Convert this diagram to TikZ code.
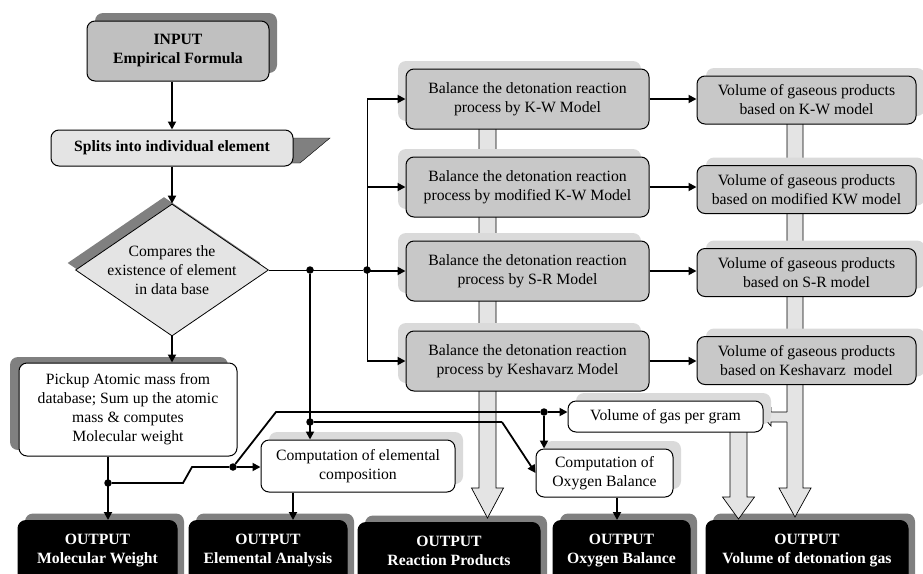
\documentclass[tikz,border=0pt]{standalone}
\usepackage{fontspec}
\setmainfont{Liberation Serif}
\usetikzlibrary{arrows.meta,shapes.geometric,shadows}
\definecolor{boxgray}{RGB}{200,200,200}
\definecolor{inputgray}{RGB}{192,192,192}
\definecolor{palegray}{RGB}{228,228,228}
\definecolor{shadowdark}{RGB}{128,128,128}
\definecolor{shadowlight}{RGB}{218,218,218}
\newcommand{\diagfont}{\fontsize{15.7}{19}\selectfont}
\tikzset{
  box/.style={draw, line width=1pt, rounded corners=8pt, inner sep=0pt, align=center},
  inbox/.style={box, fill=inputgray, font=\diagfont\bfseries,
    general shadow={fill=shadowdark, shadow xshift=8pt, shadow yshift=8pt}},
  splitbox/.style={box, fill=palegray, font=\diagfont\bfseries},
  cmpdiamond/.style={diamond, draw, line width=0.8pt, fill=palegray, inner sep=0pt,
    general shadow={fill=shadowdark, shadow xshift=-8pt, shadow yshift=7pt}},
  pickbox/.style={box, fill=white,
    general shadow={fill=shadowdark, shadow xshift=-9pt, shadow yshift=6pt}},
  modelbox/.style={box, fill=boxgray, minimum width=243pt, minimum height=60pt,
    general shadow={fill=shadowlight, shadow xshift=-8pt, shadow yshift=8pt}},
  gasbox/.style={box, fill=boxgray, minimum width=219pt, minimum height=48pt,
    general shadow={fill=shadowlight, shadow xshift=9pt, shadow yshift=8pt}},
  calcbox/.style={box, fill=white,
    general shadow={fill=shadowlight, shadow xshift=8pt, shadow yshift=8pt}},
  outbox/.style={box, fill=black, text=white, font=\diagfont\bfseries, anchor=north,
    inner ysep=14pt, text depth=50pt,
    general shadow={fill=shadowdark, shadow xshift=7pt, shadow yshift=7pt}},
  pipe/.style={draw, line width=0.7pt, fill=palegray},
  flow/.style={line width=1.8pt, -{Triangle[length=8pt,width=8pt]}},
  link/.style={line width=1.8pt},
  thinlink/.style={line width=0.9pt},
  dot/.style={circle, fill, inner sep=0pt, minimum size=7.5pt}
}

\begin{document}
\begin{tikzpicture}[x=1pt,y=-1pt,font=\diagfont]
\useasboundingbox (0,0) rectangle (923,573);
% Outputs along the bottom
\node[outbox, minimum width=159pt] (mw) at (97.5,520) {OUTPUT\\Molecular Weight};
\node[outbox, minimum width=158pt] (ea) at (268,520) {OUTPUT\\Elemental Analysis};
\node[outbox, minimum width=182pt] (rp) at (449,522) {OUTPUT\\Reaction Products};
\node[outbox, minimum width=137pt] (ob) at (621.5,520) {OUTPUT\\Oxygen Balance};
\node[outbox, minimum width=202pt] (vdg) at (807,520) {OUTPUT\\Volume of detonation gas};

% Block arrows behind the model boxes
\draw[pipe] (479,110) -- (496,110) -- (496,488) -- (503.5,488) -- (487.5,518)
  -- (471.5,488) -- (479,488) -- cycle;
\draw[pipe] (787,110) -- (803,110) -- (803,488) -- (811,488) -- (795,517)
  -- (779,488) -- (787,488) -- cycle;
\draw[pipe] (730,425) -- (747,425) -- (747,497) -- (754.5,497) -- (738.5,519)
  -- (722.5,497) -- (730,497) -- cycle;
\fill[palegray] (788.6,412) -- (771,412) -- (771,408) -- (763,417) -- (771,426)
  -- (771,422) -- (788.6,422) -- cycle;
\draw[line width=0.7pt] (787,412) -- (771,412) -- (771,408) -- (763,417) -- (771,426)
  -- (771,422) -- (787,422);

% Left column
\draw[fill=shadowdark] (285,138) -- (330,138) -- (300,163) -- (285,163) -- cycle;
\node[inbox, minimum width=182pt, minimum height=60pt] (input) at (178,51) {INPUT\\Empirical Formula};
\node[splitbox, minimum width=242pt, minimum height=36pt] (splits) at (172,148) {Splits into individual element};
\node[cmpdiamond, minimum width=193pt, minimum height=132pt,
  label={[align=center]center:Compares the\\existence of element\\in data base}] (cmp) at (172,270) {};
\node[pickbox, minimum width=218pt, minimum height=93pt] (pickup) at (128,409.5)
  {Pickup Atomic mass from\\database; Sum up the atomic\\mass \& computes\\Molecular weight};

% Models and gas volumes
\node[modelbox] (b1) at (527.5,99) {Balance the detonation reaction\\process by K-W Model};
\node[modelbox] (b2) at (527.5,187) {Balance the detonation reaction\\process by modified K-W Model};
\node[modelbox] (b3) at (527.5,271) {Balance the detonation reaction\\process by S-R Model};
\node[modelbox] (b4) at (527.5,361) {Balance the detonation reaction\\process by Keshavarz Model};
\node[gasbox] (v1) at (806.5,100) {Volume of gaseous products\\based on K-W model};
\node[gasbox] (v2) at (806.5,189.5) {Volume of gaseous products\\based on modified KW model};
\node[gasbox] (v3) at (806.5,272.5) {Volume of gaseous products\\based on S-R model};
\node[gasbox] (v4) at (806.5,360.5) {Volume of gaseous products\\based on Keshavarz\ \ model};

% Computations
\node[calcbox, minimum width=195pt, minimum height=31pt] (gpg) at (665.5,416.5) {Volume of gas per gram};
\node[calcbox, minimum width=137pt, minimum height=48pt] (oxy) at (604.5,473) {Computation of\\Oxygen Balance};
\node[calcbox, minimum width=194pt, minimum height=52pt] (elem) at (358,466) {Computation of elemental\\composition};

% Junctions
\node[dot] (j1) at (108,483) {};
\node[dot] (j2) at (233,467) {};
\node[dot] (j3) at (544,412) {};
\node[dot] (j4) at (310,270) {};
\node[dot] (j5) at (367,270) {};
\node[dot] (j6) at (310,422) {};
\coordinate (e1) at ([xshift=-65pt]elem.south);
\coordinate (o1) at ([xshift=12.5pt]oxy.south);

% Connectors
\draw[flow] (splits.north |- input.south) -- (splits.north);
\draw[flow] (splits) -- (cmp);
\draw[flow] (cmp) -- (cmp.south |- pickup.north);
\draw[flow] (j1 |- pickup.south) -- (j1 |- mw.north);
\draw[link] (j1) -- (183,483) -- (192,467) -- (j2);
\draw[flow] (j2) -- (j2 -| elem.west);
\draw[link] (j2) -- (276,412) -- (j3);
\draw[flow] (j3) -- (j3 -| gpg.west);
\draw[flow] (j3) -- (j3 |- oxy.north);
\draw[thinlink] (cmp.east) -- (j5);
\draw[flow] (j4) -- (j4 |- elem.north);
\draw[link] (j6) -- (502,422);
\draw[flow] (502,422) -- (oxy.west);
\draw[thinlink] (j5 |- b1.west) -- (j5 |- b4.west);
\foreach \b in {b1,b2,b3,b4} {
    \draw[flow] (j5 |- \b.west) -- (\b.west);
}
\foreach \i in {1,...,4} {
    \draw[flow] (b\i.east) -- (b\i.east -| v\i.west);
}
\draw[flow] (e1) -- (e1 |- ea.north);
\draw[flow] (o1) -- (o1 |- ob.north);
\end{tikzpicture}
\end{document}
